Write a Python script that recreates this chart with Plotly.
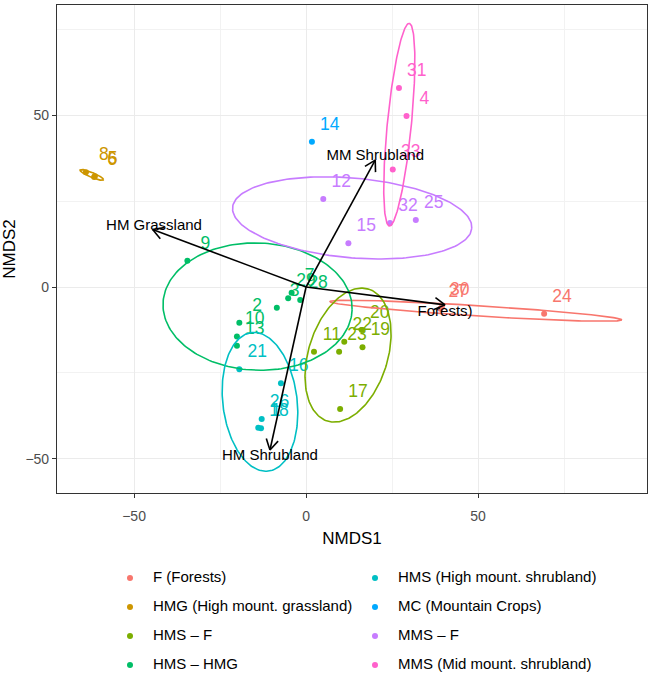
import numpy as np
import plotly.graph_objects as go

# ---------------- data ----------------
groups = ["F (Forests)", "HMG (High mount. grassland)", "HMS – F", "HMS – HMG",
          "HMS (High mount. shrubland)", "MC (Mountain Crops)", "MMS – F",
          "MMS (Mid mount. shrubland)"]
group_colors = ["#F8766D", "#CD9600", "#7CAE00", "#00BE67",
                "#00BFC4", "#00A9FF", "#C77CFF", "#FF61CC"]

site_ids = ["1", "2", "3", "4", "5", "6", "7", "8", "9", "10", "11", "12", "13", "14",
            "15", "16", "17", "18", "19", "20", "21", "22", "23", "24", "25", "26",
            "27", "28", "29", "30", "31", "32", "33"]
site_group = [4, 3, 3, 7, 1, 1, 3, 1, 3, 3, 2, 6, 3, 5,
              6, 4, 2, 4, 2, 2, 4, 2, 2, 0, 6, 4,
              0, 3, 3, 0, 7, 6, 7]
nmds1 = [-13.9, -19.4, -8.5, 29.2, -61.4, -61.6, -4.2, -64.0, -34.5, -20.1, 2.3, 5.0, -20.1, 1.7,
         12.3, -7.3, 9.9, -13.1, 16.4, 16.2, -19.4, 11.1, 9.6, 69.2, 31.9, -12.9,
         39.0, -1.7, -5.2, 39.5, 27.0, 24.4, 25.2]
nmds2 = [-40.9, -10.4, -6.0, 49.7, 32.2, 32.0, -1.7, 33.4, 7.6, -14.4, -18.8, 25.6, -17.1, 42.2,
         12.7, -28.0, -35.5, -41.1, -17.5, -12.5, -23.9, -15.9, -18.8, -7.8, 19.5, -38.4,
         -6.3, -3.8, -3.3, -5.8, 57.9, 18.6, 34.2]

# 95% ellipses per group (centre, semi-axes, angle in degrees); MC has none
ell_group = [0, 1, 2, 3, 4, 6, 7]
ell_cx = [49.4, -62.3, 12.2, -14.1, -13.4, 13.4, 27.1]
ell_cy = [-6.9, 32.6, -19.8, -5.7, -33.4, 20.1, 47.2]
ell_a = [42.5, 3.7, 20.1, 27.5, 20.3, 34.9, 29.6]
ell_b = [1.5, 0.7, 11.5, 18.5, 10.8, 11.6, 3.5]
ell_angle = [-3.6, -23.0, 72.6, -2.0, 96.9, -5.0, 84.4]

# fitted environmental vectors
vec_labels = ["HM Grassland", "MM Shrubland", "Forests)", "HM Shrubland"]
vec_x = [-44.6, 20.1, 40.4, -10.5]
vec_y = [16.7, 36.9, -5.2, -47.4]
vec_label_x = [-44.2, 20.1, 40.4, -10.5]
vec_label_y = [17.7, 38.1, -7.2, -49.3]

x_ticks = [-50, 0, 50]
y_ticks = [-50, 0, 50]

# ---------------- layout constants ----------------
W, H = 648, 676
PL, PR, PT, PB = 57, 647, 5, 493
XR = [-72.4, 99.1]
YR = [-59.9, 82.0]
FONT = "Liberation Sans, Arial, sans-serif"
LBL_DX, LBL_DY = 5.2, 4.8   # label nudge (data units)

fig = go.Figure()

# points
for gi, g in enumerate(groups):
    idx = [i for i, sg in enumerate(site_group) if sg == gi]
    fig.add_trace(go.Scatter(
        x=[nmds1[i] for i in idx], y=[nmds2[i] for i in idx],
        mode="markers", marker=dict(color=group_colors[gi], size=6),
        showlegend=False, hoverinfo="skip"))

# point labels
for gi, g in enumerate(groups):
    idx = [i for i, sg in enumerate(site_group) if sg == gi]
    fig.add_trace(go.Scatter(
        x=[nmds1[i] + LBL_DX for i in idx], y=[nmds2[i] + LBL_DY for i in idx],
        text=[site_ids[i] for i in idx], mode="text",
        textposition="middle center",
        textfont=dict(color=group_colors[gi], size=17.5, family=FONT),
        showlegend=False, hoverinfo="skip"))

# ellipses
t = np.linspace(0, 2 * np.pi, 200)
for k, gi in enumerate(ell_group):
    th = np.deg2rad(ell_angle[k])
    ex = ell_cx[k] + ell_a[k] * np.cos(t) * np.cos(th) - ell_b[k] * np.sin(t) * np.sin(th)
    ey = ell_cy[k] + ell_a[k] * np.cos(t) * np.sin(th) + ell_b[k] * np.sin(t) * np.cos(th)
    fig.add_trace(go.Scatter(x=ex, y=ey, mode="lines",
                             line=dict(color=group_colors[gi], width=1.6),
                             showlegend=False, hoverinfo="skip"))

# arrows
ax_, ay_ = [], []
head_len = 3.5
for vx, vy in zip(vec_x, vec_y):
    ax_ += [0, vx, None]
    ay_ += [0, vy, None]
    ang = np.arctan2(vy, vx)
    for s in (1, -1):
        a2 = ang + np.pi + s * np.deg2rad(30)
        ax_ += [vx + head_len * np.cos(a2), vx, None]
        ay_ += [vy + head_len * np.sin(a2), vy, None]
fig.add_trace(go.Scatter(x=ax_, y=ay_, mode="lines",
                         line=dict(color="black", width=1.6),
                         showlegend=False, hoverinfo="skip"))
fig.add_trace(go.Scatter(x=vec_label_x, y=vec_label_y, text=vec_labels, mode="text",
                         textposition="middle center",
                         textfont=dict(color="black", size=15, family=FONT),
                         showlegend=False, hoverinfo="skip"))

# legend (drawn on a full-figure pixel axis)
leg_x, leg_y = [], []
for gi in range(len(groups)):
    col, row = gi // 4, gi % 4
    leg_x.append(130 + col * 245)
    leg_y.append(578 + row * 29)
fig.add_trace(go.Scatter(x=leg_x, y=leg_y, mode="markers",
                         marker=dict(color=group_colors, size=6),
                         xaxis="x2", yaxis="y2", showlegend=False, hoverinfo="skip"))
fig.add_trace(go.Scatter(x=[v + 23 for v in leg_x], y=leg_y, mode="text", text=groups,
                         textposition="middle right",
                         textfont=dict(color="black", size=15, family=FONT),
                         xaxis="x2", yaxis="y2", showlegend=False, hoverinfo="skip"))

axis_common = dict(
    showline=True, mirror=True, linecolor="#333333", linewidth=1.1,
    showgrid=True, gridcolor="#EBEBEB", gridwidth=1.1, zeroline=False,
    ticks="outside", ticklen=4, tickcolor="#333333", tickwidth=1.1,
    tickfont=dict(family=FONT, size=14, color="#4D4D4D"),
    minor=dict(showgrid=True, gridcolor="#F2F2F2", gridwidth=0.6, dtick=25, tick0=0),
)

fig.update_layout(
    width=W, height=H,
    margin=dict(l=0, r=0, t=0, b=0),
    paper_bgcolor="white", plot_bgcolor="rgba(0,0,0,0)",
    showlegend=False,
    font=dict(family=FONT),
    xaxis=dict(domain=[PL / W, PR / W], range=XR, tickvals=x_ticks,
               ticktext=["\u221250", "0", "50"], ticklabelstandoff=6,
               title=dict(text="NMDS1", font=dict(size=17, color="black", family=FONT), standoff=9),
               **axis_common),
    yaxis=dict(domain=[1 - PB / H, 1 - PT / H], range=YR, tickvals=y_ticks,
               ticktext=["\u221250", "0", "50"],
               title=dict(text="NMDS2", font=dict(size=17, color="black", family=FONT), standoff=6),
               **axis_common),
    xaxis2=dict(domain=[0, 1], range=[0, W], visible=False, anchor="y2", fixedrange=True),
    yaxis2=dict(domain=[0, 1], range=[H, 0], visible=False, anchor="x2", fixedrange=True),
)

fig.write_html("out.html", config={"displayModeBar": False},
               post_script="document.body.style.margin='0';")
